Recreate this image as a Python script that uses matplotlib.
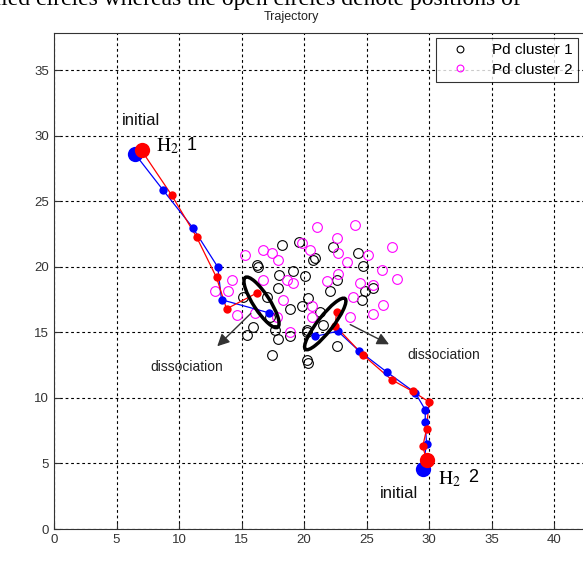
import matplotlib
matplotlib.use("Agg")
import matplotlib.pyplot as plt
from matplotlib.patches import Ellipse

plt.rcParams['font.family'] = ['Liberation Sans', 'DejaVu Sans']
plt.rcParams['mathtext.fontset'] = 'stix'

# H2 molecule 1 (atoms A: blue, B: red)
h1_blue_x = [6.5, 8.7, 11.1, 13.1, 13.4, 17.2]
h1_blue_y = [28.6, 25.9, 23.0, 20.0, 17.5, 16.5]
h1_red_x = [7.0, 9.4, 11.4, 13.0, 13.8, 16.2]
h1_red_y = [28.9, 25.5, 22.3, 19.2, 16.8, 18.0]
# H2 molecule 2
h2_blue_x = [29.5, 29.8, 29.7, 29.7, 28.9, 26.6, 24.4, 22.7, 20.9]
h2_blue_y = [4.6, 6.5, 8.2, 9.1, 10.4, 12.0, 13.6, 15.1, 14.7]
h2_red_x = [29.8, 29.5, 29.8, 30.0, 28.7, 27.0, 24.7, 22.5, 22.6]
h2_red_y = [5.3, 6.3, 7.6, 9.7, 10.5, 11.4, 13.3, 15.5, 16.6]

# Pd clusters
pd1_x = [18.2, 19.6, 20.9, 20.7, 22.3, 24.3, 24.7, 16.2, 19.1, 20.1, 17.9, 17.0,
         15.1, 18.9, 19.8, 20.3, 22.6, 22.1, 24.9, 25.5, 24.6, 17.3, 15.9, 15.4,
         17.9, 18.9, 20.2, 22.6, 17.4, 20.2, 20.3, 21.3, 21.5, 18.0, 17.7, 16.3,
         20.2]
pd1_y = [21.7, 21.9, 20.7, 20.5, 21.55, 21.05, 20.1, 20.15, 19.7, 19.3, 18.4, 17.7,
         17.7, 16.8, 17.0, 17.6, 19.0, 18.2, 18.2, 18.4, 17.5, 16.2, 15.4, 14.8,
         14.5, 14.7, 15.0, 14.0, 13.3, 12.9, 12.7, 16.6, 15.6, 19.4, 15.2, 20.0,
         15.2]
pd2_x = [21.07, 24.08, 22.6, 27.0, 15.3, 16.7, 17.4, 17.9, 19.8, 20.5, 22.7, 23.4,
         25.1, 26.2, 27.4, 14.2, 13.9, 12.9, 18.6, 18.3, 21.8, 24.5, 23.9, 25.5,
         26.3, 25.5, 20.6, 14.6, 16.1, 17.8, 18.9, 23.7, 22.7, 16.7, 20.6, 19.1]
pd2_y = [23.03, 23.2, 22.2, 21.55, 20.9, 21.3, 21.1, 20.5, 21.8, 21.3, 21.05, 20.4,
         20.9, 19.8, 19.1, 19.0, 18.2, 18.2, 19.0, 17.5, 18.9, 18.8, 17.7, 18.6,
         17.1, 16.4, 17.0, 16.3, 16.5, 16.2, 15.0, 16.2, 19.5, 19.0, 16.2, 18.75]

x_ticks = [0, 5, 10, 15, 20, 25, 30, 35, 40]
y_ticks = [0, 5, 10, 15, 20, 25, 30, 35]

W, H = 583, 570
AX_L, AX_W = 54, 562.5
fig = plt.figure(figsize=(W / 100, H / 100), dpi=100)
ax = fig.add_axes([AX_L / W, (H - 529) / H, AX_W / W, 496 / H])
ax.set_xlim(0, 45)
ax.set_ylim(0, 37.86)
ax.set_xticks(x_ticks)
ax.set_yticks(y_ticks)
ax.tick_params(direction='in', length=4, labelsize=9.5, colors='#333333', labelcolor='#333333')
ax.grid(True, linestyle=(0, (2.5, 2.5)), color='black', linewidth=0.8)
for s in ax.spines.values():
    s.set_color('#333333')
    s.set_linewidth(0.8)

ax.plot(pd1_x, pd1_y, 'o', mfc='none', mec='black', ms=7, mew=0.8, label='Pd cluster 1', zorder=3)
ax.plot(pd2_x, pd2_y, 'o', mfc='none', mec='magenta', ms=7, mew=0.8, label='Pd cluster 2', zorder=3)

for xs, ys, c in [(h1_blue_x, h1_blue_y, 'blue'), (h1_red_x, h1_red_y, 'red'),
                  (h2_blue_x, h2_blue_y, 'blue'), (h2_red_x, h2_red_y, 'red')]:
    ax.plot(xs, ys, '-', color=c, lw=0.9, zorder=4)
    ax.plot(xs[1:], ys[1:], 'o', color=c, ms=6, mec='none', zorder=5)
    ax.plot(xs[:1], ys[:1], 'o', color=c, ms=11, mec='none', zorder=5)

ax.add_patch(Ellipse((16.6, 17.3), 4.6, 1.3, angle=-55.6, fill=False, ec='black', lw=2.5, zorder=6))
ax.add_patch(Ellipse((21.7, 15.65), 5.0, 1.2, angle=50.6, fill=False, ec='black', lw=2.5, zorder=6))

ax.annotate('', xy=(12.9, 13.8), xytext=(15.9, 16.6),
            arrowprops=dict(arrowstyle='-|>', color='#333333', lw=1, mutation_scale=18), zorder=7)
ax.annotate('', xy=(27.0, 14.0), xytext=(23.5, 15.7),
            arrowprops=dict(arrowstyle='-|>', color='#333333', lw=1, mutation_scale=18), zorder=7)

ax.text(10.6, 12.4, 'dissociation', ha='center', va='center', fontsize=10, color='#222222')
ax.text(31.2, 13.3, 'dissociation', ha='center', va='center', fontsize=10, color='#222222')
ax.text(5.4, 31.2, 'initial', ha='left', va='center', fontsize=12, color='#111111')
ax.text(26.1, 2.7, 'initial', ha='left', va='center', fontsize=12, color='#111111')
ax.text(8.2, 29.2, r'$\mathrm{H_2}$', ha='left', va='center', fontsize=14)
ax.text(10.6, 29.3, '1', ha='left', va='center', fontsize=13)
ax.text(30.7, 3.8, r'$\mathrm{H_2}$', ha='left', va='center', fontsize=14)
ax.text(33.1, 3.9, '2', ha='left', va='center', fontsize=13)

leg = ax.legend(loc='upper right', bbox_to_anchor=((578 - AX_L) / AX_W, (529 - 38) / 496), fontsize=11,
                frameon=True, fancybox=False, edgecolor='black', handletextpad=0.9,
                borderaxespad=0, labelspacing=0.35, handlelength=2.4, markerscale=0.7,
                borderpad=0.35)
leg.get_frame().set_linewidth(0.8)

fig.text(0.5, 1 - 17 / H, 'Trajectory', ha='center', va='center', fontsize=9, color='#222222')
fig.text(-0.035, 1 - 5 / H, 'filled circles whereas the open circles denote positions of',
         ha='left', va='baseline', fontsize=17, family='Liberation Serif')

fig.savefig('out.png', dpi=100)
